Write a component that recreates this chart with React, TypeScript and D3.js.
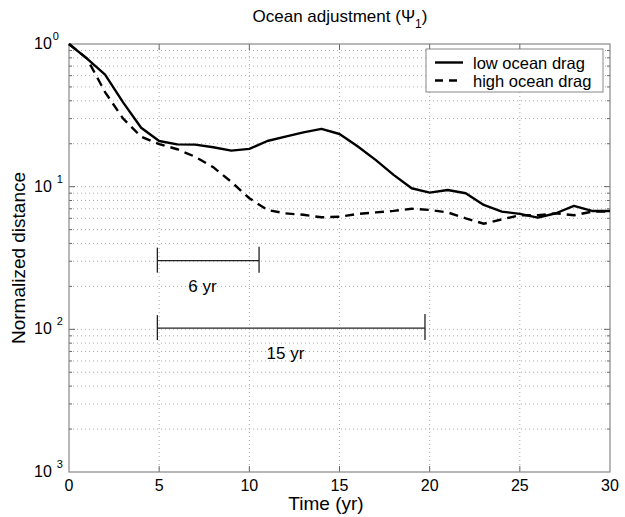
import * as d3 from 'd3';

// time axis (yr)
const years = d3.range(0, 31);

// normalized distance, low ocean drag (solid)
const lowDrag = [
  1.0, 0.79, 0.61, 0.39, 0.259, 0.209, 0.198, 0.197, 0.189, 0.179,
  0.184, 0.209, 0.224, 0.24, 0.254, 0.234, 0.192, 0.154, 0.121, 0.0975,
  0.0908, 0.0948, 0.0899, 0.0744, 0.0668, 0.0645, 0.0607, 0.0651, 0.0733, 0.0676,
  0.0676,
];

// normalized distance, high ocean drag (dashed)
const highDrag = [
  1.0, 0.79, 0.46, 0.3, 0.224, 0.199, 0.183, 0.162, 0.137, 0.108,
  0.083, 0.0687, 0.065, 0.0635, 0.061, 0.0615, 0.0644, 0.066, 0.0676, 0.07,
  0.0687, 0.066, 0.06, 0.055, 0.059, 0.063, 0.063, 0.065, 0.063, 0.0668,
  0.0668,
];

// period markers: [start, end, level, label, label centre]
const markers: [number, number, number, string, number][] = [
  [4.9, 10.54, 0.0303, '6 yr', 7.4],
  [4.9, 19.74, 0.0102, '15 yr', 12.0],
];

const xTicks = [0, 5, 10, 15, 20, 25, 30];
const decades = [0, -1, -2, -3];
const seriesNames = ['low ocean drag', 'high ocean drag'];

const W = 625;
const H = 517;
const m = { left: 69, right: 15, top: 44, bottom: 45 };
const font = '"Liberation Sans", Arial, sans-serif';

export default function App() {
  const x = d3.scaleLinear().domain([0, 30]).range([m.left, W - m.right]);
  const y = d3.scaleLog().domain([1e-3, 1]).range([H - m.bottom, m.top]);

  const minor: number[] = [];
  for (let e = -3; e < 0; e++) {
    for (let k = 1; k <= 9; k++) minor.push(k * Math.pow(10, e));
  }
  const gridVals = minor.filter((v) => v > 1e-3);

  const line = d3
    .line<number>()
    .x((_, i) => x(years[i]))
    .y((d) => y(d));

  const [x0, x1] = x.range();
  const [yb, yt] = y.range();

  return (
    <svg
      width={W}
      height={H}
      style={{ position: 'absolute', left: 0, top: 0, background: '#fff' }}
      fontFamily={font}
    >
      {/* grid */}
      <g stroke="#aaa" strokeWidth={1} strokeDasharray="1,3">
        {gridVals.map((v, i) => (
          <line key={'h' + i} x1={x0} x2={x1} y1={y(v)} y2={y(v)} />
        ))}
        {xTicks.slice(1, -1).map((t) => (
          <line key={'v' + t} x1={x(t)} x2={x(t)} y1={yt} y2={yb} />
        ))}
      </g>

      {/* ticks */}
      <g stroke="#666" strokeWidth={1}>
        {xTicks.slice(1, -1).map((t) => (
          <g key={'xt' + t}>
            <line x1={x(t)} x2={x(t)} y1={yb} y2={yb - 6} />
            <line x1={x(t)} x2={x(t)} y1={yt} y2={yt + 6} />
          </g>
        ))}
        {gridVals.map((v, i) => {
          const len = Math.abs(Math.log10(v) - Math.round(Math.log10(v))) < 1e-6 ? 6 : 3;
          return (
            <g key={'yt' + i}>
              <line x1={x0} x2={x0 + len} y1={y(v)} y2={y(v)} />
              <line x1={x1} x2={x1 - len} y1={y(v)} y2={y(v)} />
            </g>
          );
        })}
      </g>

      {/* frame */}
      <rect x={x0} y={yt} width={x1 - x0} height={yb - yt} fill="none" stroke="#888" strokeWidth={1.2} />

      {/* series */}
      <path d={line(lowDrag) ?? ''} fill="none" stroke="#000" strokeWidth={2.4} strokeLinejoin="round" />
      <path d={line(highDrag) ?? ''} fill="none" stroke="#000" strokeWidth={2.4} strokeDasharray="9,6" />

      {/* period markers */}
      {markers.map(([a, b, v, label, c]) => (
        <g key={label}>
          <g stroke="#222" strokeWidth={1.3}>
            <line x1={x(a)} x2={x(b)} y1={y(v)} y2={y(v)} />
            <line x1={x(a)} x2={x(a)} y1={y(v) - 13} y2={y(v) + 12} />
            <line x1={x(b)} x2={x(b)} y1={y(v) - 14} y2={y(v) + 12} />
          </g>
          <text x={x(c)} y={y(v) + 31} textAnchor="middle" fontSize={17}>
            {label}
          </text>
        </g>
      ))}

      {/* x tick labels */}
      {xTicks.map((t) => (
        <text key={'xl' + t} x={x(t)} y={yb + 19} textAnchor="middle" fontSize={16}>
          {t}
        </text>
      ))}

      {/* y tick labels */}
      {decades.map((e) => (
        <text key={'yl' + e} x={x0 - 35} y={y(Math.pow(10, e)) + 5} fontSize={16}>
          10
          <tspan dx={e === 0 ? 1 : 5} dy={-9} fontSize={11}>
            {Math.abs(e)}
          </tspan>
        </text>
      ))}

      {/* axis labels */}
      <text x={326} y={H - 7} textAnchor="middle" fontSize={19}>
        Time (yr)
      </text>
      <text
        transform={`translate(25,${(yt + yb) / 2}) rotate(-90)`}
        textAnchor="middle"
        fontSize={19}
      >
        Normalized distance
      </text>

      {/* title */}
      <text x={340} y={22} textAnchor="middle" fontSize={17}>
        Ocean adjustment (Ψ
        <tspan dy={6} fontSize={12}>
          1
        </tspan>
        <tspan dy={-6}>)</tspan>
      </text>

      {/* legend */}
      <g>
        <rect x={426} y={49} width={177} height={43} fill="#fff" stroke="#888" strokeWidth={1} />
        {seriesNames.map((name, i) => (
          <g key={name}>
            <line
              x1={435}
              x2={463}
              y1={62.5 + i * 18}
              y2={62.5 + i * 18}
              stroke="#000"
              strokeWidth={2.4}
              strokeDasharray={i === 1 ? '8,6' : undefined}
            />
            <text x={473} y={68.5 + i * 18} fontSize={16.5}>
              {name}
            </text>
          </g>
        ))}
      </g>
    </svg>
  );
}
